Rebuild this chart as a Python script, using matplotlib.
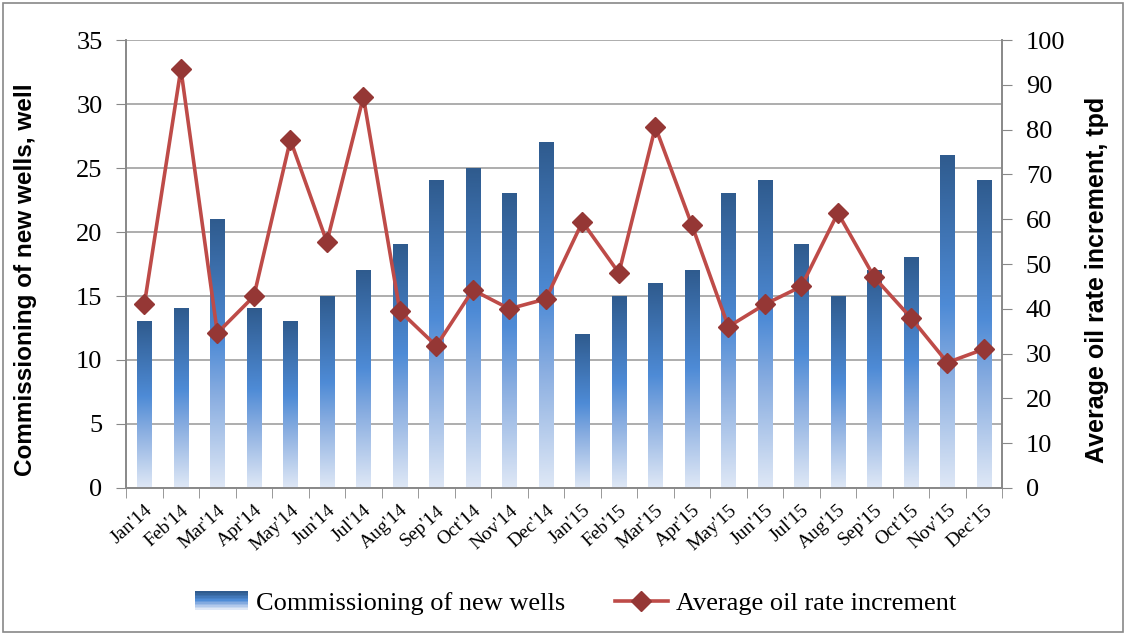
import matplotlib.pyplot as plt
import numpy as np
from matplotlib.colors import LinearSegmentedColormap
from matplotlib.patches import Rectangle, Patch
from matplotlib.lines import Line2D
from matplotlib.legend_handler import HandlerBase

months = ["Jan'14", "Feb'14", "Mar'14", "Apr'14", "May'14", "Jun'14", "Jul'14", "Aug'14",
          "Sep'14", "Oct'14", "Nov'14", "Dec'14", "Jan'15", "Feb'15", "Mar'15", "Apr'15",
          "May'15", "Jun'15", "Jul'15", "Aug'15", "Sep'15", "Oct'15", "Nov'15", "Dec'15"]
new_wells = [13, 14, 21, 14, 13, 15, 17, 19, 24, 25, 23, 27,
             12, 15, 16, 17, 23, 24, 19, 15, 17, 18, 26, 24]
oil_rate = [41, 93.5, 34.6, 42.8, 77.7, 54.9, 87.3, 39.5, 31.7, 44.2, 40, 42.2,
            59.4, 48, 80.6, 58.7, 36, 41, 45, 61.4, 47, 38, 28, 31]

serif = 'Liberation Serif'
sans = 'Liberation Sans'

# gradient for the bars: pale bottom -> bright blue -> dark blue top
cmap = LinearSegmentedColormap.from_list(
    'bars', [(0.0, '#dfe8f6'), (0.35, '#87ace0'), (0.55, '#4e8bd6'), (1.0, '#2f5b8e')])


class GradientHandler(HandlerBase):
    def create_artists(self, legend, orig_handle, xdescent, ydescent, width, height,
                       fontsize, trans):
        n = 12
        arts = []
        for i in range(n):
            arts.append(Rectangle((xdescent, ydescent + height * i / n), width, height / n + 0.3,
                                  facecolor=cmap(i / (n - 1)), edgecolor='none',
                                  transform=trans))
        return arts


fig = plt.figure(figsize=(11.26, 6.35), dpi=100)
ax = fig.add_axes([0.112, 0.2315, 0.778, 0.7055])
ax2 = ax.twinx()

x = np.arange(len(months))
bw = 0.4

grad = np.linspace(0, 1, 256).reshape(-1, 1)
bars = ax.bar(x, new_wells, width=bw, color='none', edgecolor='none', zorder=2)
for b in bars:
    ax.imshow(grad, cmap=cmap, origin='lower', aspect='auto', zorder=2,
              extent=[b.get_x(), b.get_x() + b.get_width(), 0, b.get_height()])

ax2.plot(x, oil_rate, color='#be4b48', lw=2.6, marker='D', markersize=10,
         markerfacecolor='#953735', markeredgecolor='#953735', zorder=3)

ax.set_xlim(-0.5, len(months) - 0.5)
ax.set_ylim(0, 35)
ax2.set_ylim(0, 100)
ax.set_yticks(range(0, 36, 5))
ax2.set_yticks(range(0, 101, 10))

ax.grid(axis='y', color='#a0a0a0', lw=1.2, zorder=0)
ax.set_axisbelow(True)

ax.set_xticks(x)
ax.set_xticklabels(months, rotation=42, ha='right', rotation_mode='anchor',
                   fontfamily=serif, fontsize=14)
ax.set_xticks(np.arange(-0.5, len(months), 1), minor=True)
ax.tick_params(axis='x', which='major', length=0, pad=10)
ax.tick_params(axis='x', which='minor', length=7, color='#888888', direction='out')
ax.tick_params(axis='y', length=7, color='#888888', labelsize=19, pad=10)
ax2.tick_params(axis='y', length=7, color='#888888', labelsize=19, pad=10)
for t in ax.get_yticklabels() + ax2.get_yticklabels():
    t.set_fontfamily(serif)

for a in (ax, ax2):
    a.spines['top'].set_visible(False)
    for s in ('left', 'right', 'bottom'):
        a.spines[s].set_color('#888888')
        a.spines[s].set_linewidth(1.2)

ax.set_ylabel('Commissioning of new wells, well', fontfamily=sans, fontweight='bold',
              fontsize=17.5)
ax.yaxis.set_label_coords(-0.102, 0.464)
ax2.set_ylabel('Average oil rate increment, tpd', fontfamily=sans, fontweight='bold',
               fontsize=18)
ax2.yaxis.set_label_coords(1.095, 0.464)

handles = [Patch(facecolor='#4a7fc0', edgecolor='none'),
           Line2D([], [], color='#be4b48', lw=2.6, marker='D', markersize=10,
                  markerfacecolor='#953735', markeredgecolor='#953735')]
fig.legend(handles, ['Commissioning of new wells', 'Average oil rate increment'],
           loc='center', bbox_to_anchor=(0.511, 0.05), ncol=2, frameon=False,
           prop={'family': serif, 'size': 19}, columnspacing=1.9, handlelength=2.0,
           handletextpad=0.3, handler_map={Patch: GradientHandler()})

fig.patches.append(Rectangle((0.003, 0.004), 0.994, 0.992, transform=fig.transFigure,
                             fill=False, edgecolor='#888888', lw=1.2))

fig.savefig('out.png', dpi=100)
